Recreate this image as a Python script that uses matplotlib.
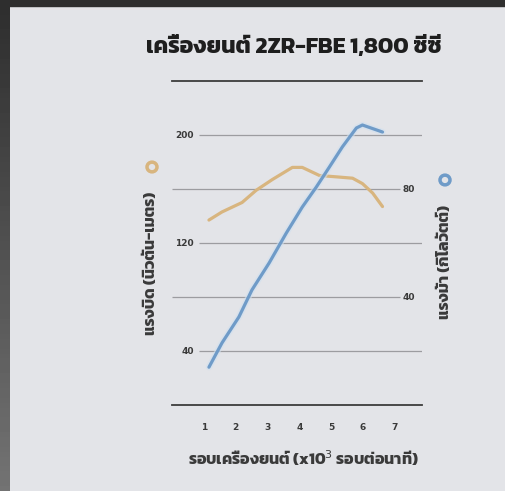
import numpy as np
import matplotlib
matplotlib.use("Agg")
import matplotlib.pyplot as plt
from matplotlib import font_manager
from matplotlib.patches import Rectangle

# loopless Thai font close to the brochure's heading face
names = {f.name for f in font_manager.fontManager.ttflist}
thai = next((n for n in ["Kanit", "Noto Sans Thai", "Loma"] if n in names), "DejaVu Sans")
plt.rcParams["font.family"] = [thai, "DejaVu Sans"]

# data (rpm x1000)
power_rpm = [1.16, 1.57, 2.10, 2.51, 3.05, 3.59, 4.09, 4.53, 4.94, 5.35, 5.79, 5.98, 6.61]
power_kw = [14, 23, 32.6, 42.6, 52.6, 63.7, 73.3, 80.7, 88.1, 95.6, 102.6, 103.7, 101.1]
torque_rpm = [1.16, 1.57, 2.20, 2.64, 3.15, 3.78, 4.09, 4.63, 5.16, 5.67, 5.98, 6.30, 6.61]
torque_nm = [137, 143, 150, 159, 167, 176, 176, 170, 169, 168, 164, 157, 147]
xticks = [1, 2, 3, 4, 5, 6, 7]
left_labels = [200, 120, 40]
right_labels = [80, 40]

title = "เครื่องยนต์ 2ZR-FBE 1,800 ซีซี"
xlabel = "รอบเครื่องยนต์ (x10$^3$ รอบต่อนาที)"
ylabel_l = "แรงบิด (นิวตัน-เมตร)"
ylabel_r = "แรงม้า (กิโลวัตต์)"

bg = "#e3e4e8"
blue = "#6f9bc8"
orange = "#d8b57f"
grid_c = "#9c9ca0"
txt_c = "#3a3a3a"

fig = plt.figure(figsize=(5.06, 4.91), dpi=100, facecolor=bg)
W, H = 506, 491
ax = fig.add_axes([172 / W, 1 - 405 / H, 250 / W, 324 / H])
ax.set_facecolor(bg)
ax.set_xlim(0, 7.85)
ax.set_ylim(0, 240)
ax2 = ax.twinx()
ax2.set_ylim(0, 120)

for a in (ax, ax2):
    for s in a.spines.values():
        s.set_visible(False)
    a.set_yticks([])
ax.set_xticks([])

# frame lines top / bottom
ax.axhline(240, color="#3c3c3c", lw=1.3, clip_on=False)
ax.axhline(0, color="#3c3c3c", lw=1.3, clip_on=False)

# grid lines, broken where the labels sit
for v in [200, 160, 120, 80, 40]:
    if v in left_labels:
        ax.hlines(v, 0.86, 7.85, color=grid_c, lw=0.9)
        ax.text(0.68, v, str(v), ha="right", va="center", fontsize=6.5,
                fontweight="bold", color=txt_c, family=["DejaVu Sans"])
    elif v / 2 in right_labels:
        ax.hlines(v, 0, 7.15, color=grid_c, lw=0.9)
        ax2.text(7.25, v / 2, str(int(v / 2)), ha="left", va="center", fontsize=6.5,
                 fontweight="bold", color=txt_c, family=["DejaVu Sans"])
    else:
        ax.hlines(v, 0, 7.85, color=grid_c, lw=0.9)

# curves
ax.plot(torque_rpm, torque_nm, color=orange, lw=2.3, solid_capstyle="round", zorder=3)
ax2.plot(power_rpm, power_kw, color="#cfe0f0", lw=4.5, alpha=0.6, solid_capstyle="round", zorder=3)
ax2.plot(power_rpm, power_kw, color=blue, lw=2.3, solid_capstyle="round", zorder=4)

# x tick labels
for t in xticks:
    ax.text(t, -17, str(t), ha="center", va="center", fontsize=6.5,
            fontweight="bold", color=txt_c, family=["DejaVu Sans"])

fig.text(303 / W, 1 - 458 / H, xlabel, ha="center", va="center", fontsize=11.5,
         fontweight="bold", color=txt_c)
fig.text(151 / W, 1 - 263 / H, ylabel_l, ha="center", va="center", fontsize=11.5,
         fontweight="bold", color=txt_c, rotation=90)
fig.text(445 / W, 1 - 262 / H, ylabel_r, ha="center", va="center", fontsize=11.5,
         fontweight="bold", color=txt_c, rotation=90)
fig.text(294 / W, 1 - 46 / H, title, ha="center", va="center", fontsize=16.5,
         fontweight="bold", color="#1e1e1e")

# legend rings
fig.patches.append(plt.Circle((152 / W, 1 - 167 / H), 5 / W, transform=fig.transFigure,
                              fill=False, ec=orange, lw=2.5))
fig.patches.append(plt.Circle((445 / W, 1 - 180 / H), 5 / W, transform=fig.transFigure,
                              fill=False, ec=blue, lw=2.5))

# dark page border at top and left
fig.patches.append(Rectangle((0, 1 - 6 / H), 1, 6 / H, transform=fig.transFigure,
                             color="#2e2e2e", zorder=10))
grad = np.linspace(0.18, 0.45, 100).reshape(-1, 1)
bax = fig.add_axes([0, 0, 10 / W, 1])
bax.imshow(grad, cmap="gray", vmin=0, vmax=1, aspect="auto")
bax.axis("off")

fig.savefig("out.png", dpi=100, facecolor=bg)
